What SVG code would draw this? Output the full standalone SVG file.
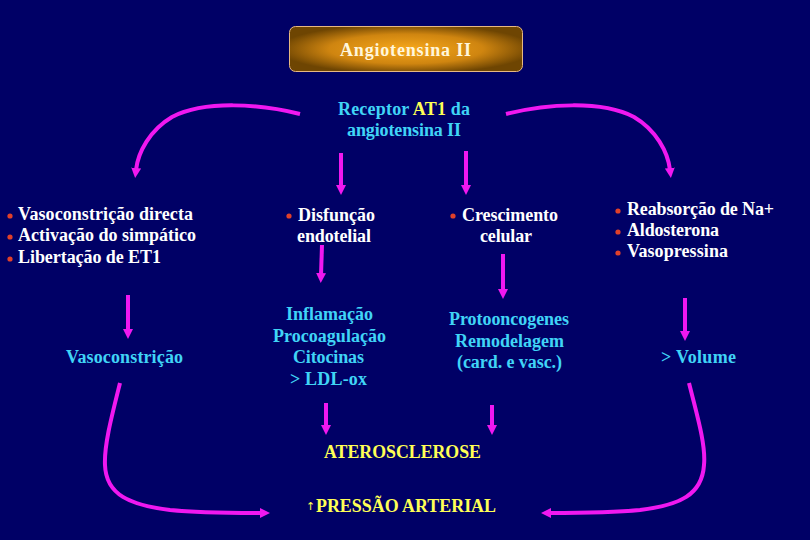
<svg xmlns="http://www.w3.org/2000/svg" width="810" height="540" viewBox="0 0 810 540">
<defs>
<radialGradient id="boxg" cx="50%" cy="50%" r="55%">
<stop offset="0" stop-color="#f7a81c"/>
<stop offset="0.6" stop-color="#cf8510"/>
<stop offset="1" stop-color="#6e4502"/>
</radialGradient>
<marker id="ah" viewBox="0 0 10 10" refX="2" refY="5" markerWidth="10" markerHeight="10" markerUnits="userSpaceOnUse" orient="auto">
<path d="M0,0 L10,5 L0,10 z" fill="#f018f0"/>
</marker>
<style>
.t{font-family:"Liberation Serif","Times New Roman",serif;font-weight:bold;font-size:18px}
.w{fill:#ffffff}
.c{fill:#40d4f6}
.y{fill:#ffff55}
.b{fill:#e0402a}
.cn path,.cn line{fill:none;stroke:#f018f0;stroke-width:4;marker-end:url(#ah)}
</style>
</defs>
<rect width="810" height="540" fill="#000066"/>

<g id="angiotensina">
<rect x="289.5" y="26.5" width="233" height="45" rx="6" fill="url(#boxg)" stroke="#e6b882" stroke-width="1"/>
<text class="t" x="340" y="56" textLength="131" fill="#fff6dc">Angiotensina II</text>
</g>

<g id="receptor">
<text class="t c" x="338" y="115" textLength="132">Receptor <tspan class="y">AT1</tspan> da</text>
<text class="t c" x="347" y="136" textLength="114">angiotensina II</text>
</g>

<g id="efeitos-vasculares">
<circle class="b" cx="10" cy="216" r="2.6"/>
<circle class="b" cx="10" cy="237" r="2.6"/>
<circle class="b" cx="10" cy="259" r="2.6"/>
<text class="t w" x="18" y="220" textLength="175">Vasoconstrição directa</text>
<text class="t w" x="18" y="241" textLength="178">Activação do simpático</text>
<text class="t w" x="18" y="263" textLength="143">Libertação de ET1</text>
</g>

<g id="vasoconstricao">
<text class="t c" x="66" y="363" textLength="117">Vasoconstrição</text>
</g>

<g id="disfuncao">
<circle class="b" cx="289" cy="216" r="2.6"/>
<text class="t w" x="298" y="221" textLength="77">Disfunção</text>
<text class="t w" x="297" y="242" textLength="74">endotelial</text>
</g>

<g id="inflamacao">
<text class="t c" x="286" y="320" textLength="87">Inflamação</text>
<text class="t c" x="273" y="342" textLength="113">Procoagulação</text>
<text class="t c" x="293" y="363" textLength="71">Citocinas</text>
<text class="t c" x="290" y="385" textLength="77">&gt; LDL-ox</text>
</g>

<g id="crescimento">
<circle class="b" cx="453" cy="216" r="2.6"/>
<text class="t w" x="462" y="221" textLength="96">Crescimento</text>
<text class="t w" x="480" y="242" textLength="52">celular</text>
</g>

<g id="protooncogenes">
<text class="t c" x="449" y="325" textLength="120">Protooncogenes</text>
<text class="t c" x="455" y="347" textLength="109">Remodelagem</text>
<text class="t c" x="457" y="368" textLength="105">(card. e vasc.)</text>
</g>

<g id="efeitos-renais">
<circle class="b" cx="618" cy="211" r="2.6"/>
<circle class="b" cx="618" cy="232" r="2.6"/>
<circle class="b" cx="618" cy="253" r="2.6"/>
<text class="t w" x="627" y="215" textLength="147">Reabsorção de Na+</text>
<text class="t w" x="627" y="236" textLength="92">Aldosterona</text>
<text class="t w" x="627" y="257" textLength="101">Vasopressina</text>
</g>

<g id="volume">
<text class="t c" x="661" y="363" textLength="75">&gt; Volume</text>
</g>

<g id="aterosclerose">
<text class="t y" x="324" y="458" textLength="157" lengthAdjust="spacingAndGlyphs">ATEROSCLEROSE</text>
</g>

<g id="pressao">
<text x="306" y="510" font-family="DejaVu Sans,sans-serif" font-size="11" class="y">↑</text>
<text class="t y" x="316" y="512" textLength="180" lengthAdjust="spacingAndGlyphs">PRESSÃO ARTERIAL</text>
</g>

<g id="connectors" class="cn">
<path d="M300,114 C260,104 205,100 172,117 C150,130 138,152 136,170"/>
<path d="M506,114 C546,104 601,100 634,117 C656,130 668,152 670,170"/>
<line x1="341" y1="153" x2="341" y2="187"/>
<line x1="466" y1="151" x2="466" y2="187"/>
<line x1="322" y1="245" x2="321" y2="275"/>
<line x1="128" y1="295" x2="128" y2="331"/>
<line x1="503" y1="254" x2="503" y2="291"/>
<line x1="685" y1="298" x2="685" y2="333"/>
<line x1="326" y1="403" x2="326" y2="427"/>
<line x1="492" y1="405" x2="492" y2="427"/>
<path d="M120,383 C112,415 104,445 105,465 C106,495 130,505 170,510 C200,513 230,513 262,513"/>
<path d="M689,383 C697,415 706,445 704,465 C702,495 680,505 640,510 C610,513 580,513 549,513"/>
</g>
</svg>
